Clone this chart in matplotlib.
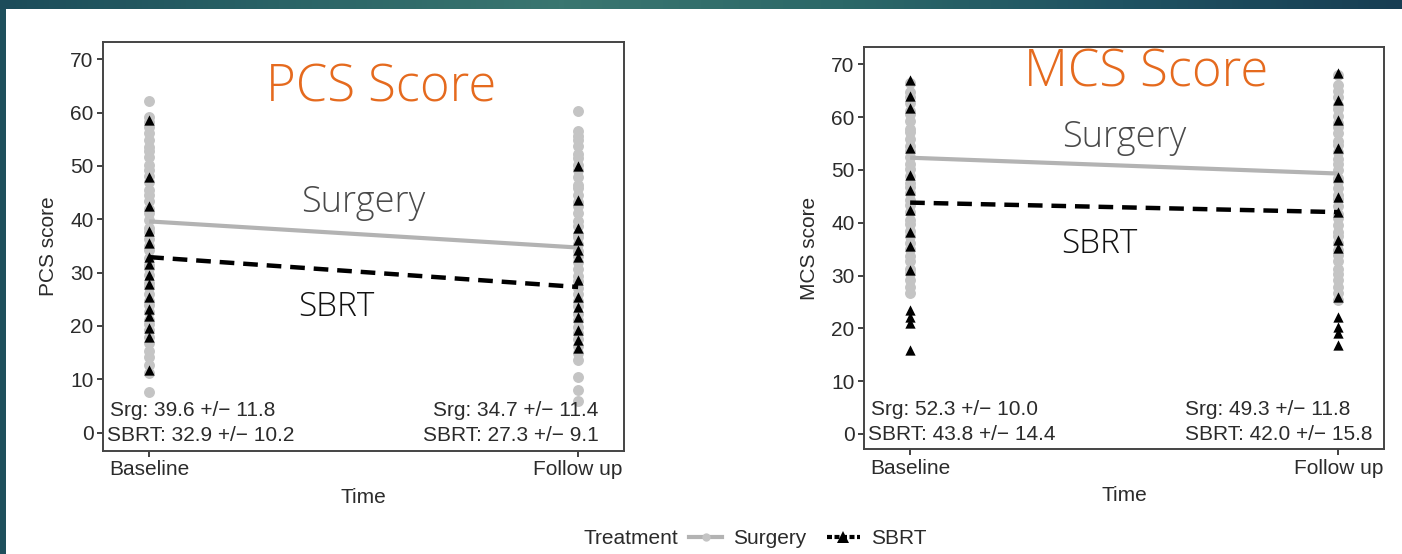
import matplotlib
matplotlib.use("Agg")
import matplotlib.pyplot as plt
import numpy as np
from matplotlib.lines import Line2D
from matplotlib.colors import LinearSegmentedColormap

plt.rcParams['font.family'] = ['Liberation Sans', 'DejaVu Sans']

# ---------------- data ----------------
time_labels = ["Baseline", "Follow up"]
time_pos = [0, 1]

pcs_srg_base = [7.7, 11.2, 12.6, 14.1, 15.3, 16.8, 17.9, 19.2, 20.4, 21.1, 22.6, 23.9, 24.7, 26.0,
                27.3, 28.1, 29.6, 30.8, 31.5, 32.7, 34.2, 35.0, 36.3, 37.6, 38.4, 39.9, 41.2, 42.0,
                43.5, 44.6, 45.4, 46.9, 48.1, 49.3, 50.2, 51.6, 52.8, 53.5, 54.9, 56.1, 57.3, 58.2,
                59.1, 62.2]
pcs_sbrt_base = [58.6, 48.0, 42.4, 37.8, 35.5, 33.0, 31.6, 29.6, 27.8, 25.5, 23.2, 21.8, 19.6, 18.0, 11.8]
pcs_srg_fu = [6.0, 8.0, 10.5, 13.6, 15.0, 16.2, 17.5, 18.7, 19.8, 21.2, 22.3, 23.7, 24.6, 25.9, 27.2,
              28.4, 29.3, 30.7, 31.9, 33.1, 34.0, 35.4, 36.6, 37.3, 38.8, 39.7, 41.1, 42.4, 43.2,
              44.6, 45.8, 46.5, 47.9, 49.2, 50.1, 51.5, 52.3, 53.7, 54.8, 55.6, 56.5, 60.3]
pcs_sbrt_fu = [49.9, 43.6, 38.4, 36.2, 34.3, 33.0, 28.6, 25.5, 23.6, 21.7, 19.2, 17.4, 15.9]
pcs_srg_mean = [39.6, 34.7]
pcs_sbrt_mean = [32.9, 27.3]

mcs_srg_base = [26.7, 27.9, 29.2, 30.4, 31.3, 32.8, 33.6, 35.1, 36.2, 37.4, 38.5, 39.8, 40.6, 42.1,
                43.3, 44.2, 45.7, 46.8, 47.5, 48.9, 50.2, 51.1, 52.4, 53.6, 54.5, 55.9, 57.1, 57.8,
                59.3, 60.5, 61.2, 62.6, 63.8, 64.7, 66.5]
mcs_sbrt_base = [67.0, 63.9, 61.7, 54.1, 49.1, 46.2, 42.4, 38.3, 35.5, 31.1, 23.5, 22.2, 21.0, 15.9]
mcs_srg_fu = [25.4, 26.6, 27.8, 29.1, 30.3, 31.2, 32.7, 33.9, 34.8, 36.2, 37.5, 38.3, 39.6, 40.9,
              41.7, 43.1, 44.4, 45.2, 46.6, 47.8, 48.5, 49.9, 51.2, 52.0, 53.4, 54.7, 55.5, 56.9,
              58.1, 58.8, 60.2, 61.5, 62.3, 63.7, 65.0, 66.1, 68.0]
mcs_sbrt_fu = [68.3, 63.3, 59.5, 54.1, 48.7, 44.9, 42.1, 36.7, 35.2, 26.0, 22.2, 20.3, 19.1, 16.9]
mcs_srg_mean = [52.3, 49.3]
mcs_sbrt_mean = [43.8, 42.0]

pcs_notes = [("Srg: 39.6 +/\u2212 11.8", "SBRT: 32.9 +/\u2212 10.2"),
             ("Srg: 34.7 +/\u2212 11.4", "SBRT: 27.3 +/\u2212 9.1")]
mcs_notes = [("Srg: 52.3 +/\u2212 10.0", "SBRT: 43.8 +/\u2212 14.4"),
             ("Srg: 49.3 +/\u2212 11.8", "SBRT: 42.0 +/\u2212 15.8")]

yticks = [0, 10, 20, 30, 40, 50, 60, 70]

# ---------------- figure ----------------
W, H = 1402, 554
fig = plt.figure(figsize=(W / 100, H / 100), dpi=100)
fig.patch.set_facecolor("white")

# decorative teal border (top band + left strip)
cmap = LinearSegmentedColormap.from_list(
    "teal", ["#1c4c5a", "#2a6366", "#3a7670", "#2c6868", "#1f5262", "#183e53"])
band = fig.add_axes([0, 1 - 9 / H, 1, 9 / H])
band.imshow(np.linspace(0, 1, 256)[None, :], aspect="auto", cmap=cmap)
band.axis("off")
strip = fig.add_axes([0, 0, 6 / W, 1 - 9 / H])
strip.set_facecolor("#1e4f5c")
strip.set_xticks([]); strip.set_yticks([])
for s in strip.spines.values():
    s.set_visible(False)

SRG_PT = "#c4c4c4"
SRG_LN = "#b3b3b3"
TXT = "#2b2b2b"
FS = 15


def panel(rect, srg_base, srg_fu, sbrt_base, sbrt_fu, srg_mean, sbrt_mean, notes,
          ylabel, ylim, note_right_x, note_right_ha):
    ax = fig.add_axes(rect)
    ax.scatter([time_pos[0]] * len(srg_base), srg_base, s=62, color=SRG_PT, zorder=2, linewidths=0)
    ax.scatter([time_pos[1]] * len(srg_fu), srg_fu, s=62, color=SRG_PT, zorder=2, linewidths=0)
    ax.scatter([time_pos[0]] * len(sbrt_base), sbrt_base, s=55, marker="^", color="black", zorder=4,
               linewidths=0)
    ax.scatter([time_pos[1]] * len(sbrt_fu), sbrt_fu, s=55, marker="^", color="black", zorder=4,
               linewidths=0)
    ax.plot(time_pos, srg_mean, color=SRG_LN, lw=3, zorder=3, solid_capstyle="butt")
    ax.plot(time_pos, sbrt_mean, color="black", lw=3.2, zorder=3, dashes=(3.3, 2.0))
    ax.set_xlim(-0.107, 1.107)
    ax.set_ylim(*ylim)
    ax.set_xticks(time_pos)
    ax.set_xticklabels(time_labels)
    ax.set_yticks(yticks)
    ax.tick_params(length=4, width=1.3, color="#333333", labelsize=FS, labelcolor=TXT, pad=3)
    for s in ax.spines.values():
        s.set_color("#444444")
        s.set_linewidth(1.4)
    ax.set_xlabel("Time", fontsize=FS, color=TXT, labelpad=6)
    ax.set_ylabel(ylabel, fontsize=FS, color=TXT, labelpad=9)
    ax.text(0.012, 0.099, notes[0][0], transform=ax.transAxes, fontsize=FS, color=TXT,
            ha="left", va="center")
    ax.text(0.008, 0.037, notes[0][1], transform=ax.transAxes, fontsize=FS, color=TXT,
            ha="left", va="center")
    ax.text(note_right_x, 0.099, notes[1][0], transform=ax.transAxes, fontsize=FS, color=TXT,
            ha=note_right_ha, va="center")
    ax.text(note_right_x, 0.037, notes[1][1], transform=ax.transAxes, fontsize=FS, color=TXT,
            ha=note_right_ha, va="center")
    return ax


def rect_px(l, t, r, b):
    return [l / W, 1 - b / H, (r - l) / W, (b - t) / H]


panel(rect_px(103.3, 41.7, 624, 450.7), pcs_srg_base, pcs_srg_fu, pcs_sbrt_base, pcs_sbrt_fu,
      pcs_srg_mean, pcs_sbrt_mean, pcs_notes, "PCS score", (-3.4, 73.3), 0.951, "right")
panel(rect_px(864.3, 47.3, 1384.3, 449.3), mcs_srg_base, mcs_srg_fu, mcs_sbrt_base, mcs_sbrt_fu,
      mcs_srg_mean, mcs_sbrt_mean, mcs_notes, "MCS score", (-2.9, 73.2), 0.617, "left")

# overlay slide annotations
ov_font = ["Open Sans", "Lato", "DejaVu Sans"]


def ftext(x, y, s, size, color):
    fig.text(x / W, 1 - y / H, s, fontsize=size, color=color, ha="center", va="center",
             family=ov_font, fontweight="light")


ftext(381, 88, "PCS Score", 36.5, "#e56a1e")
ftext(1146, 73, "MCS Score", 36.5, "#e56a1e")
ftext(363, 202, "Surgery", 26, "#4a4a4a")
ftext(336, 307, "SBRT", 24, "#111111")
ftext(1124, 138, "Surgery", 26, "#4a4a4a")
ftext(1099, 244, "SBRT", 24, "#111111")

# legend
fig.text(583 / W, 1 - 539 / H, "Treatment", fontsize=FS, color=TXT, ha="left", va="center")
handles = [Line2D([], [], color=SRG_LN, lw=3, marker="o", markersize=6, markerfacecolor=SRG_PT,
                  markeredgewidth=0),
           Line2D([], [], color="black", lw=3, dashes=(1.2, 0.6), marker="^", markersize=8,
                  markeredgewidth=0)]
fig.legend(handles, ["Surgery", "SBRT"], loc="center left", bbox_to_anchor=(689 / W, 1 - 539 / H),
           ncol=2, frameon=False, fontsize=FS, handlelength=1.6, handletextpad=0.5,
           columnspacing=1.0, labelcolor=TXT, borderaxespad=0, borderpad=0)

fig.savefig("out.png", dpi=100, facecolor="white")
